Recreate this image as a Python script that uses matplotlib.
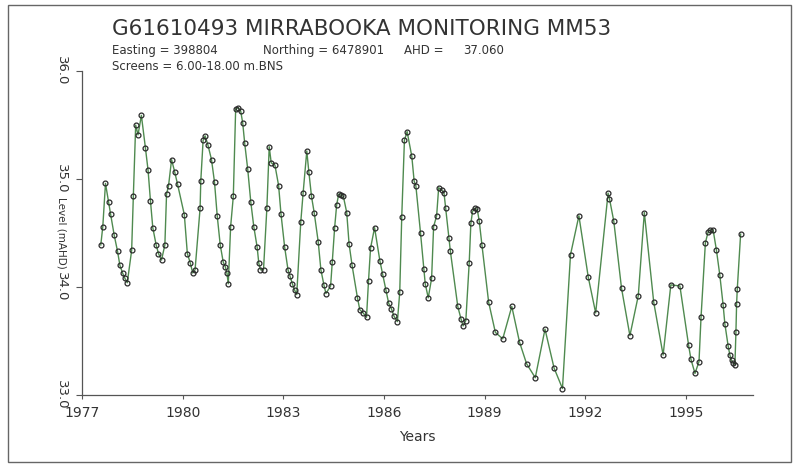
import matplotlib.pyplot as plt
from matplotlib.patches import Rectangle

# bore hydrograph values
years = [
  1977.56, 1977.62, 1977.70, 1977.79, 1977.85, 1977.96, 1978.06, 1978.13, 1978.21, 1978.28,
  1978.35, 1978.48, 1978.53, 1978.60, 1978.67, 1978.77, 1978.89, 1978.97, 1979.04, 1979.11,
  1979.21, 1979.28, 1979.37, 1979.47, 1979.52, 1979.58, 1979.67, 1979.76, 1979.85, 1980.05,
  1980.14, 1980.23, 1980.30, 1980.37, 1980.52, 1980.54, 1980.61, 1980.67, 1980.75, 1980.86,
  1980.95, 1981.03, 1981.12, 1981.21, 1981.27, 1981.32, 1981.36, 1981.43, 1981.51, 1981.58,
  1981.66, 1981.73, 1981.79, 1981.85, 1981.94, 1982.03, 1982.12, 1982.22, 1982.27, 1982.32,
  1982.41, 1982.51, 1982.58, 1982.64, 1982.75, 1982.86, 1982.93, 1983.04, 1983.14, 1983.20,
  1983.27, 1983.34, 1983.40, 1983.52, 1983.59, 1983.70, 1983.76, 1983.84, 1983.92, 1984.04,
  1984.12, 1984.21, 1984.27, 1984.41, 1984.46, 1984.53, 1984.59, 1984.65, 1984.73, 1984.79,
  1984.89, 1984.96, 1985.05, 1985.21, 1985.28, 1985.38, 1985.48, 1985.54, 1985.60, 1985.72,
  1985.88, 1985.96, 1986.06, 1986.14, 1986.22, 1986.30, 1986.40, 1986.47, 1986.53, 1986.61,
  1986.69, 1986.83, 1986.90, 1986.95, 1987.09, 1987.19, 1987.23, 1987.32, 1987.42, 1987.48,
  1987.57, 1987.63, 1987.72, 1987.79, 1987.84, 1987.94, 1987.98, 1988.20, 1988.30, 1988.36,
  1988.44, 1988.54, 1988.59, 1988.64, 1988.70, 1988.78, 1988.84, 1988.92, 1989.12, 1989.32,
  1989.54, 1989.81, 1990.04, 1990.25, 1990.51, 1990.80, 1991.07, 1991.32, 1991.56, 1991.81,
  1992.09, 1992.31, 1992.68, 1992.72, 1992.85, 1993.08, 1993.33, 1993.58, 1993.76, 1994.04,
  1994.32, 1994.55, 1994.82, 1995.08, 1995.15, 1995.27, 1995.39, 1995.45, 1995.58, 1995.66,
  1995.73, 1995.81, 1995.91, 1996.01, 1996.11, 1996.16, 1996.26, 1996.31, 1996.36, 1996.41,
  1996.46, 1996.49, 1996.51, 1996.53, 1996.63,
]
levels = [
  34.39, 34.56, 34.96, 34.79, 34.68, 34.48, 34.33, 34.20, 34.13, 34.08,
  34.04, 34.34, 34.84, 35.50, 35.41, 35.59, 35.29, 35.08, 34.80, 34.55,
  34.39, 34.31, 34.25, 34.39, 34.86, 34.94, 35.18, 35.07, 34.95, 34.67,
  34.31, 34.22, 34.13, 34.16, 34.73, 34.98, 35.36, 35.40, 35.32, 35.18,
  34.97, 34.66, 34.39, 34.23, 34.19, 34.13, 34.03, 34.56, 34.84, 35.65,
  35.66, 35.63, 35.52, 35.33, 35.09, 34.79, 34.56, 34.37, 34.22, 34.16,
  34.16, 34.73, 35.30, 35.15, 35.13, 34.94, 34.68, 34.37, 34.16, 34.10,
  34.03, 33.97, 33.93, 34.60, 34.87, 35.26, 35.07, 34.84, 34.69, 34.42,
  34.16, 34.02, 33.94, 34.01, 34.23, 34.55, 34.76, 34.86, 34.85, 34.84,
  34.69, 34.40, 34.20, 33.90, 33.79, 33.76, 33.72, 34.06, 34.36, 34.55,
  34.24, 34.12, 33.97, 33.85, 33.80, 33.73, 33.68, 33.95, 34.65, 35.36,
  35.44, 35.21, 34.98, 34.94, 34.50, 34.17, 34.03, 33.90, 34.08, 34.56,
  34.66, 34.92, 34.90, 34.87, 34.73, 34.45, 34.33, 33.82, 33.70, 33.64,
  33.69, 34.22, 34.59, 34.70, 34.73, 34.72, 34.61, 34.39, 33.86, 33.58,
  33.52, 33.82, 33.49, 33.29, 33.16, 33.61, 33.25, 33.06, 34.30, 34.66,
  34.09, 33.76, 34.87, 34.82, 34.61, 33.99, 33.55, 33.92, 34.69, 33.86,
  33.37, 34.02, 34.01, 33.46, 33.33, 33.20, 33.31, 33.72, 34.41, 34.51,
  34.53, 34.53, 34.34, 34.11, 33.83, 33.66, 33.45, 33.37, 33.32, 33.30,
  33.28, 33.58, 33.84, 33.98, 34.49,
]

x_ticks = [1977, 1980, 1983, 1986, 1989, 1992, 1995]
y_ticks = [33.0, 34.0, 35.0, 36.0]

title = "G61610493 MIRRABOOKA MONITORING MM53"
info_parts = ["Easting = 398804", "Northing = 6478901", "AHD =", "37.060"]
screens = "Screens = 6.00-18.00 m.BNS"

fig = plt.figure(figsize=(7.93, 4.68), dpi=100)
ax = fig.add_axes([0.1034, 0.156, 0.8462, 0.692])

ax.plot(years, levels, color="#4f8a4f", linewidth=1.0, marker="o", markersize=3.5,
        markerfacecolor="none", markeredgecolor="#2a2a2a", markeredgewidth=0.9)

ax.set_xlim(1977, 1997)
ax.set_ylim(33.0, 36.0)
ax.set_xticks(x_ticks)
ax.set_xticklabels([str(t) for t in x_ticks], fontsize=10, color="#333333")
ax.set_yticks(y_ticks)
ax.set_yticklabels([f"{t:.1f}" for t in y_ticks], fontsize=9.5, color="#333333",
                   rotation=270, va="center", ha="right")
ax.tick_params(axis="x", direction="out", length=3, width=0.8, pad=5, colors="#555555")
ax.tick_params(axis="y", direction="out", length=4, width=0.8, pad=6, colors="#555555")
for lbl in ax.get_xticklabels() + ax.get_yticklabels():
  lbl.set_color("#333333")

for side in ["top", "right"]:
  ax.spines[side].set_visible(False)
for side in ["left", "bottom"]:
  ax.spines[side].set_color("#555555")
  ax.spines[side].set_linewidth(0.9)

ax.set_xlabel("Years", fontsize=10, color="#333333", labelpad=7)
ax.text(-0.0298, 0.5, "Level (mAHD)", transform=ax.transAxes, fontsize=7.5,
        color="#333333", rotation=270, ha="center", va="center")

fig.text(0.141, 0.938, title, fontsize=15.5, color="#333333", va="center", ha="left")
info_x = [112, 263, 404, 463]
for px, part in zip(info_x, info_parts):
  fig.text(px / 793, 0.893, part, fontsize=8.5, color="#333333", va="center", ha="left")
fig.text(112 / 793, 0.858, screens, fontsize=8.5, color="#333333", va="center", ha="left")

# page frame
fig.patches.append(Rectangle((0.010, 0.013), 0.987, 0.976, transform=fig.transFigure,
                             fill=False, edgecolor="#666666", linewidth=1.0))

fig.savefig("out.png", dpi=100)
plt.close()
